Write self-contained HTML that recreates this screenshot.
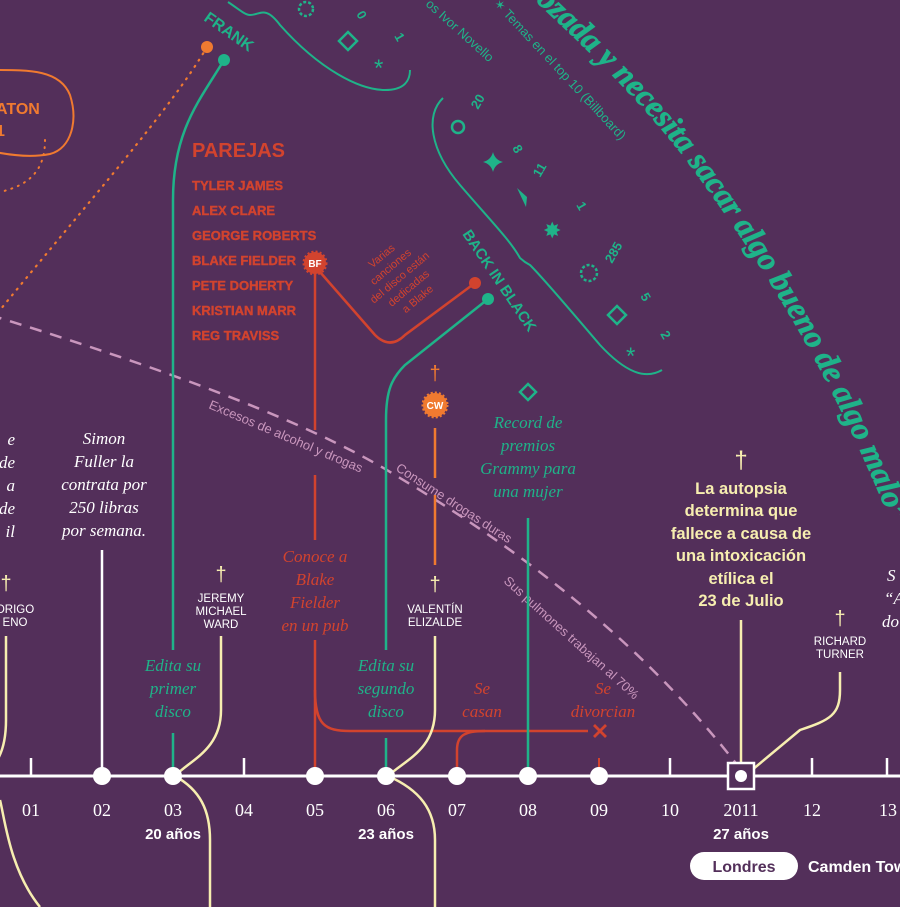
<!DOCTYPE html>
<html><head><meta charset="utf-8"><style>
html,body{margin:0;padding:0;background:#532f5a;}
svg{display:block}
.serif{font-family:"Liberation Serif",serif;font-style:italic}
.sans{font-family:"Liberation Sans","DejaVu Sans",sans-serif}
</style></head><body>
<svg width="900" height="907" viewBox="0 0 900 907" xmlns="http://www.w3.org/2000/svg">
<rect width="900" height="907" fill="#532f5a"/>
<defs>
<path id="quote" d="M470,-60 C550,15 630,85 690,165 C760,260 830,370 892,525"/>
</defs>

<!-- dashed pink curve -->
<path d="M-10,315 C120,355 300,415 400,478 C520,550 640,640 738,766" fill="none" stroke="#c996bd" stroke-width="2.5" stroke-dasharray="12 9"/>
<g class="sans" fill="#c996bd" font-size="13">
<text transform="translate(208,408) rotate(23)">Excesos de alcohol y drogas</text>
<text transform="translate(395,470) rotate(33)">Consume drogas duras</text>
<text transform="translate(503,582) rotate(42)">Sus pulmones trabajan al 70%</text>
</g>

<!-- orange left blob -->
<path d="M-5,70 C30,70 60,70 70,95 C78,120 72,148 50,154 C30,158 10,155 -5,152" fill="none" stroke="#f07a30" stroke-width="2"/>
<text x="-4" y="114" class="sans" font-weight="bold" font-size="16" fill="#f07a30">ATON</text>
<text x="-4" y="136" class="sans" font-weight="bold" font-size="16" fill="#f07a30">1</text>
<path d="M45,140 C45,170 30,185 0,192" fill="none" stroke="#f07a30" stroke-width="2" stroke-dasharray="1 6" stroke-linecap="round"/>
<path d="M207,47 C170,110 90,200 0,310" fill="none" stroke="#f07a30" stroke-width="2.2" stroke-dasharray="1 6.5" stroke-linecap="round"/>
<circle cx="207" cy="47" r="6" fill="#f07a30"/>

<!-- teal FRANK line -->
<circle cx="224" cy="60" r="6" fill="#1fb389"/>
<path d="M224,60 C200,100 173,130 173,200 L173,650" fill="none" stroke="#1fb389" stroke-width="2.5"/>
<line x1="173" y1="733" x2="173" y2="776" stroke="#1fb389" stroke-width="2.5"/>
<text transform="translate(203,20) rotate(35)" class="sans" font-weight="bold" font-size="16" fill="#1fb389">FRANK</text>

<!-- upper bracket -->
<path d="M228,2 C240,10 245,15 250,15 C260,15 265,5 280,25 C320,70 360,90 385,90 C405,90 410,80 410,70" fill="none" stroke="#1fb389" stroke-width="2"/>
<g fill="none" stroke="#1fb389" stroke-width="2.5">
<circle cx="306" cy="9" r="7" stroke-dasharray="3 2"/>
<path d="M348,32 L357,41 L348,50 L339,41 Z"/>
</g>
<g class="sans" fill="#1fb389" font-size="13" font-weight="bold">
<text transform="translate(356,14) rotate(60)">0</text>
<text transform="translate(394,36) rotate(60)">1</text>
<text x="374" y="76" font-size="24" font-weight="normal">*</text>
</g>
<g class="sans" fill="#1fb389" font-size="13">
<text transform="translate(425,5) rotate(42)">os Ivor Novello</text>
<text transform="translate(493,4) rotate(47)">✶ Temas en el top 10 (Billboard)</text>
</g>

<!-- second bracket -->
<path d="M443,98 C425,115 430,150 460,185 C490,220 510,240 520,258 L525,262 L530,265 C545,280 570,310 600,345 C625,372 645,380 662,370" fill="none" stroke="#1fb389" stroke-width="2"/>
<g fill="#1fb389" class="sans" font-size="13" font-weight="bold">
<circle cx="458" cy="127" r="6" fill="none" stroke="#1fb389" stroke-width="2.5"/>
<text transform="translate(478,110) rotate(-60)">20</text>
<path d="M493,152 Q495,160 503,162 Q495,164 493,172 Q491,164 483,162 Q491,160 493,152Z"/>
<text transform="translate(512,148) rotate(60)">8</text>
<path d="M517,188 L527,197 L526,207 Z"/>
<text transform="translate(540,178) rotate(-60)">11</text>
<text x="543" y="238" font-size="22" font-weight="normal">✸</text>
<text transform="translate(576,205) rotate(60)">1</text>
<circle cx="589" cy="273" r="8" fill="none" stroke="#1fb389" stroke-width="2.5" stroke-dasharray="3 2"/>
<text transform="translate(612,264) rotate(-60)">285</text>
<path d="M617,306 L626,315 L617,324 L608,315 Z" fill="none" stroke="#1fb389" stroke-width="2.5"/>
<text transform="translate(640,296) rotate(60)">5</text>
<text x="626" y="364" font-size="24" font-weight="normal">*</text>
<text transform="translate(660,334) rotate(60)">2</text>
</g>

<!-- big quote -->
<text font-family="Liberation Serif,serif" font-style="italic" font-weight="bold" font-size="32" fill="#1fb389" stroke="#1fb389" stroke-width="0.8"><textPath href="#quote" startOffset="100%" text-anchor="end">«Está destrozada y necesita sacar algo bueno de algo malo”</textPath></text>

<!-- PAREJAS -->
<text x="192" y="157" class="sans" font-weight="bold" font-size="20" fill="#d2432e">PAREJAS</text>
<g class="sans" font-weight="bold" font-size="13" fill="#d2432e" stroke="#d2432e" stroke-width="0.4">
<text x="192" y="190">TYLER JAMES</text>
<text x="192" y="215">ALEX CLARE</text>
<text x="192" y="240">GEORGE ROBERTS</text>
<text x="192" y="265">BLAKE FIELDER</text>
<text x="192" y="290">PETE DOHERTY</text>
<text x="192" y="315">KRISTIAN MARR</text>
<text x="192" y="340">REG TRAVISS</text>
</g>
<!-- red lines -->
<path d="M315,262 L315,430 M315,475 L315,540" fill="none" stroke="#d2432e" stroke-width="2.5"/>
<path d="M315,640 L315,776" stroke="#d2432e" stroke-width="2.5"/>
<path d="M315,690 C315,725 325,731 350,731 L588,731" fill="none" stroke="#d2432e" stroke-width="2.5"/>
<path d="M457,776 L457,750 C457,735 465,731 485,731" fill="none" stroke="#d2432e" stroke-width="2.5"/>
<path d="M594,725 L606,737 M606,725 L594,737" stroke="#d2432e" stroke-width="2.8"/>
<line x1="599" y1="758" x2="599" y2="768" stroke="#d2432e" stroke-width="2"/>
<path d="M320,272 L375,335 C385,345 395,345 405,335 L475,283" fill="none" stroke="#d2432e" stroke-width="2.5"/>
<circle cx="475" cy="283" r="6" fill="#d2432e"/>
<g transform="translate(315,263)">
<circle r="11" fill="#d2432e" stroke="#d2432e" stroke-width="3" stroke-dasharray="2 2"/>
<text y="4" text-anchor="middle" class="sans" font-weight="bold" font-size="10" fill="#fff">BF</text>
</g>
<g class="sans" font-size="11" fill="#d2432e" text-anchor="middle" transform="translate(400,278) rotate(-40)">
<text y="-25">Varias</text><text y="-11">canciones</text><text y="3">del disco están</text><text y="17">dedicadas</text><text y="31">a Blake</text>
</g>

<!-- back in black teal -->
<circle cx="488" cy="299" r="6" fill="#1fb389"/>
<path d="M488,299 L405,365 C392,378 386,390 386,420 L386,650" fill="none" stroke="#1fb389" stroke-width="2.5"/>
<line x1="386" y1="738" x2="386" y2="776" stroke="#1fb389" stroke-width="2.5"/>
<text transform="translate(462,234) rotate(56)" class="sans" font-weight="bold" font-size="15" fill="#1fb389">BACK IN BLACK</text>

<!-- CW orange -->
<text x="435" y="380" text-anchor="middle" class="sans" font-size="20" fill="#f07a30">†</text>
<g transform="translate(435,405)">
<circle r="12" fill="#f07a30" stroke="#f07a30" stroke-width="3" stroke-dasharray="2 2"/>
<text y="4" text-anchor="middle" class="sans" font-weight="bold" font-size="10" fill="#fff">CW</text>
</g>
<path d="M435,428 L435,478 M435,495 L435,565" stroke="#f07a30" stroke-width="2.5"/>

<!-- grammy -->
<path d="M528,384 L536,392 L528,400 L520,392 Z" fill="none" stroke="#1fb389" stroke-width="2.5"/>
<g class="serif" font-size="17" fill="#1fb389" text-anchor="middle">
<text x="528" y="428">Record de</text><text x="528" y="451">premios</text><text x="528" y="474">Grammy para</text><text x="528" y="497">una mujer</text>
</g>
<line x1="528" y1="518" x2="528" y2="776" stroke="#1fb389" stroke-width="2.5"/>

<!-- Simon Fuller -->
<g class="serif" font-size="17" fill="#fff" text-anchor="middle">
<text x="104" y="444">Simon</text><text x="104" y="467">Fuller la</text><text x="104" y="490">contrata por</text><text x="104" y="513">250 libras</text><text x="104" y="536">por semana.</text>
</g>
<line x1="102" y1="550" x2="102" y2="776" stroke="#fff" stroke-width="2.5"/>
<g class="serif" font-size="17" fill="#fff" text-anchor="end">
<text x="15" y="445">e</text><text x="15" y="468">de</text><text x="15" y="491">a</text><text x="15" y="514">de</text><text x="15" y="537">il</text>
</g>

<!-- italic labels -->
<g class="serif" font-size="17" fill="#1fb389" text-anchor="middle">
<text x="173" y="671">Edita su</text><text x="173" y="694">primer</text><text x="173" y="717">disco</text>
<text x="386" y="671">Edita su</text><text x="386" y="694">segundo</text><text x="386" y="717">disco</text>
</g>
<g class="serif" font-size="17" fill="#d2432e" text-anchor="middle">
<text x="315" y="562">Conoce a</text><text x="315" y="585">Blake</text><text x="315" y="608">Fielder</text><text x="315" y="631">en un pub</text>
<text x="482" y="694">Se</text><text x="482" y="717">casan</text>
<text x="603" y="694">Se</text><text x="603" y="717">divorcian</text>
</g>

<!-- cream deaths -->
<g class="sans" fill="#f7eeb0">
<text x="6" y="590" text-anchor="middle" font-size="20">†</text>
<text x="221" y="581" text-anchor="middle" font-size="20">†</text>
<text x="435" y="591" text-anchor="middle" font-size="20">†</text>
<text x="840" y="625" text-anchor="middle" font-size="20">†</text>
<text x="741" y="468" text-anchor="middle" font-size="24">†</text>
</g>
<g class="sans" fill="#fff" font-size="11.5" text-anchor="middle">
<text x="15" y="613">ORIGO</text><text x="15" y="626">ENO</text>
<text x="221" y="602">JEREMY</text><text x="221" y="615">MICHAEL</text><text x="221" y="628">WARD</text>
<text x="435" y="613">VALENTÍN</text><text x="435" y="626">ELIZALDE</text>
<text x="840" y="645">RICHARD</text><text x="840" y="658">TURNER</text>
</g>
<g fill="none" stroke="#f7eeb0" stroke-width="2.5">
<path d="M6,636 L6,720 C6,760 -10,770 -20,776"/>
<path d="M0,800 C5,820 10,870 40,907"/>
<path d="M221,636 L221,710 C221,750 190,760 175,776"/>
<path d="M175,776 C200,790 210,810 210,840 L210,907"/>
<path d="M435,636 L435,710 C435,750 405,760 388,776"/>
<path d="M388,776 C420,790 435,810 435,840 L435,907"/>
<path d="M840,672 L840,690 C840,715 830,720 800,730 L752,770"/>
<line x1="741" y1="620" x2="741" y2="765"/>
</g>
<g class="sans" font-weight="bold" fill="#f7eeb0" font-size="16.5" text-anchor="middle">
<text x="741" y="494">La autopsia</text><text x="741" y="516">determina que</text><text x="741" y="539">fallece a causa de</text><text x="741" y="561">una intoxicación</text><text x="741" y="584">etílica el</text><text x="741" y="606">23 de Julio</text>
</g>
<g class="serif" font-size="17" fill="#fff">
<text x="887" y="581">S</text><text x="884" y="604">“A</text><text x="882" y="627">do</text>
</g>

<!-- timeline -->
<line x1="0" y1="776" x2="900" y2="776" stroke="#fff" stroke-width="3"/>
<g stroke="#fff" stroke-width="2.5">
<line x1="31" y1="758" x2="31" y2="776"/><line x1="244" y1="758" x2="244" y2="776"/>
<line x1="670" y1="758" x2="670" y2="776"/><line x1="812" y1="758" x2="812" y2="776"/><line x1="887" y1="758" x2="887" y2="776"/>
</g>
<g fill="#fff">
<circle cx="102" cy="776" r="9"/><circle cx="173" cy="776" r="9"/><circle cx="315" cy="776" r="9"/>
<circle cx="386" cy="776" r="9"/><circle cx="457" cy="776" r="9"/><circle cx="528" cy="776" r="9"/><circle cx="599" cy="776" r="9"/>
</g>
<rect x="728" y="763" width="26" height="26" fill="#532f5a" stroke="#fff" stroke-width="2.5"/>
<circle cx="741" cy="776" r="6" fill="#fff"/>
<g font-family="Liberation Serif,serif" font-size="18" fill="#fff" text-anchor="middle">
<text x="31" y="816">01</text><text x="102" y="816">02</text><text x="173" y="816">03</text><text x="244" y="816">04</text>
<text x="315" y="816">05</text><text x="386" y="816">06</text><text x="457" y="816">07</text><text x="528" y="816">08</text>
<text x="599" y="816">09</text><text x="670" y="816">10</text><text x="741" y="816">2011</text><text x="812" y="816">12</text><text x="888" y="816">13</text>
</g>
<g class="sans" font-weight="bold" font-size="15" fill="#fff" text-anchor="middle">
<text x="173" y="839">20 años</text><text x="386" y="839">23 años</text><text x="741" y="839">27 años</text>
</g>
<rect x="690" y="852" width="108" height="28" rx="14" fill="#fff"/>
<text x="744" y="872" text-anchor="middle" class="sans" font-weight="bold" font-size="16" fill="#532f5a">Londres</text>
<text x="808" y="872" class="sans" font-weight="bold" font-size="16" fill="#fff">Camden Town</text>
</svg>
</body></html>
